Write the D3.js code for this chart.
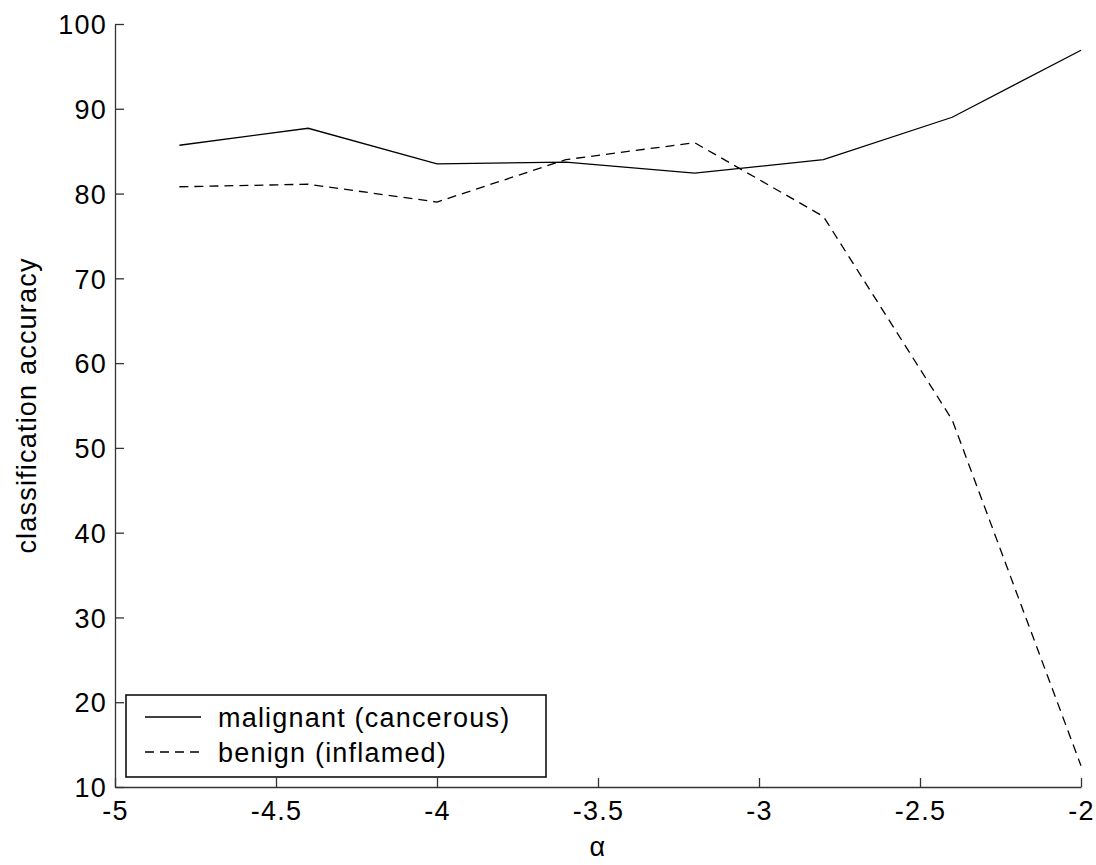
<!DOCTYPE html>
<html>
<head>
<meta charset="utf-8">
<script src="https://cdn.jsdelivr.net/npm/d3@7"></script>
<style>
  body { margin: 0; background: #fff; }
  svg text { font-family: "Liberation Sans", Arial, sans-serif; fill: #000; letter-spacing: 1.2px; }
</style>
</head>
<body>
<svg id="chart" width="1096" height="865"></svg>
<script>
// values
var alphas = [-4.8, -4.4, -4.0, -3.6, -3.2, -2.8, -2.4, -2.0];
var malignant = [85.7, 87.7, 83.5, 83.7, 82.4, 84.0, 89.0, 96.9];
var benign = [80.8, 81.1, 79.0, 84.0, 86.0, 77.3, 53.3, 12.5];
var xTicks = [-5, -4.5, -4, -3.5, -3, -2.5, -2];
var yTicks = [10, 20, 30, 40, 50, 60, 70, 80, 90, 100];
var seriesNames = ['malignant (cancerous)', 'benign (inflamed)'];

var svg = d3.select('#chart');
// plot box (named so they don't clash with window.top)
var plotL = 115, plotR = 1081, plotT = 24, plotB = 787;

var x = d3.scaleLinear().domain([-5, -2]).range([plotL, plotR]);
var y = d3.scaleLinear().domain([10, 100]).range([plotB, plotT]);

// axes: ticks drawn inward like the original
var xAxis = svg.append('g')
  .attr('transform', 'translate(0,' + plotB + ')')
  .call(d3.axisBottom(x).tickValues(xTicks).tickSizeInner(-9).tickSizeOuter(0)
    .tickPadding(0).tickFormat(function(d){ return String(d); }));
xAxis.selectAll('text').attr('y', 33).attr('dy', 0).style('font-size', '27px');

var yAxis = svg.append('g')
  .attr('transform', 'translate(' + plotL + ',0)')
  .call(d3.axisLeft(y).tickValues(yTicks).tickSizeInner(-9).tickSizeOuter(0)
    .tickPadding(0));
yAxis.selectAll('text').attr('x', -8).attr('dy', '0.36em').style('font-size', '27px');

svg.selectAll('.domain, .tick line').attr('stroke', '#333').attr('stroke-width', 1.3);

// lines
var line = d3.line()
  .x(function(d, i){ return x(alphas[i]); })
  .y(function(d){ return y(d); });

svg.append('path')
  .datum(malignant)
  .attr('d', line)
  .attr('fill', 'none')
  .attr('stroke', '#000')
  .attr('stroke-width', 1.3);

svg.append('path')
  .datum(benign)
  .attr('d', line)
  .attr('fill', 'none')
  .attr('stroke', '#000')
  .attr('stroke-width', 1.3)
  .attr('stroke-dasharray', '9,6');

// axis titles
svg.append('text')
  .attr('x', (plotL + plotR) / 2)
  .attr('y', 856)
  .attr('text-anchor', 'middle')
  .style('font-size', '27px')
  .text('α');

svg.append('text')
  .attr('transform', 'translate(36,' + ((plotT + plotB) / 2) + ') rotate(-90)')
  .attr('text-anchor', 'middle')
  .style('font-size', '27px')
  .text('classification accuracy');

// legend
var legend = svg.append('g').attr('transform', 'translate(126,695)');
legend.append('rect')
  .attr('width', 420).attr('height', 82)
  .attr('fill', '#fff').attr('stroke', '#000').attr('stroke-width', 1.5);

var rows = legend.selectAll('.row')
  .data(seriesNames)
  .enter()
  .append('g')
  .attr('transform', function(d, i){ return 'translate(0,' + (22 + i * 35) + ')'; });

rows.append('line')
  .attr('x1', 19).attr('x2', 75)
  .attr('stroke', '#000').attr('stroke-width', 1.3)
  .attr('stroke-dasharray', function(d, i){ return i ? '9,6' : null; });

rows.append('text')
  .attr('x', 92)
  .attr('dy', '0.36em')
  .style('font-size', '27px')
  .text(function(d){ return d; });
</script>
</body>
</html>
